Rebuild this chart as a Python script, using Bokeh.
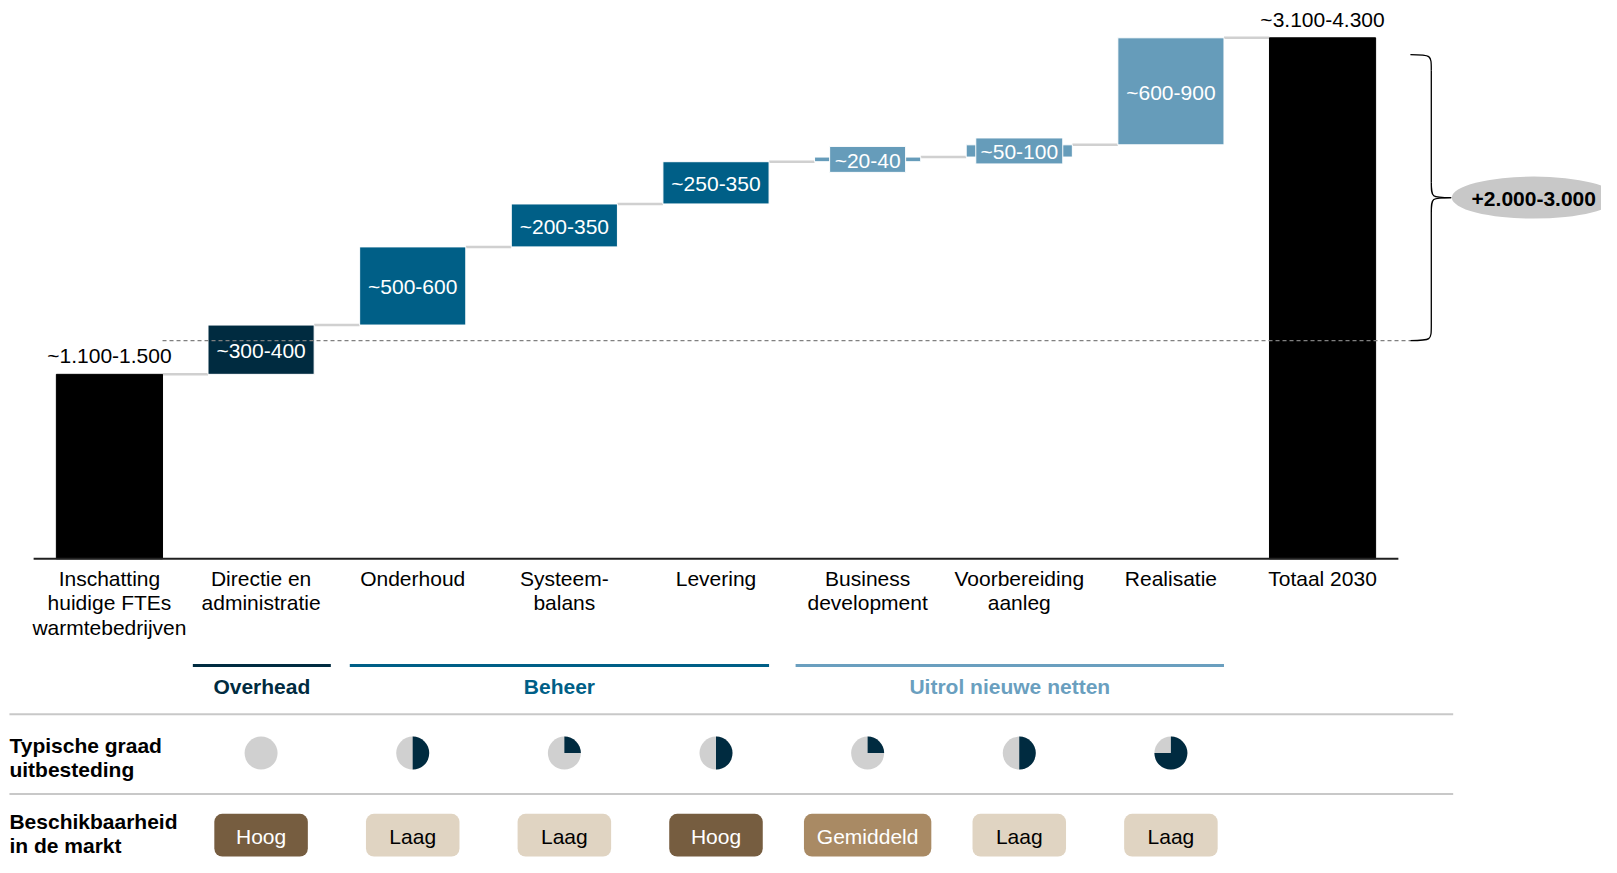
import math
from bokeh.plotting import figure
from bokeh.models import Range1d, ColumnDataSource
from bokeh.core.properties import value
from bokeh.embed import file_html
from bokeh.resources import INLINE

# ---------------- data ----------------
categories = ["Inschatting\nhuidige FTEs\nwarmtebedrijven", "Directie en\nadministratie", "Onderhoud",
              "Systeem-\nbalans", "Levering", "Business\ndevelopment", "Voorbereiding\naanleg",
              "Realisatie", "Totaal 2030"]
start_value = 1310
increments = [350, 555, 305, 300, 33, 87, 760]
total_value = 3700
value_labels = ["~1.100-1.500", "~300-400", "~500-600", "~200-350", "~250-350", "~20-40",
                "~50-100", "~600-900", "~3.100-4.300"]
segment_groups = ["Overhead", "Beheer", "Beheer", "Beheer", "Uitrol", "Uitrol", "Uitrol"]
dashed_level = 1550
brace_top = 3580
growth_label = "+2.000-3.000"

groups = ["Overhead", "Beheer", "Uitrol nieuwe netten"]
group_first = [1, 2, 5]
group_last = [1, 4, 7]

outsourcing_fraction = [0.0, 0.5, 0.25, 0.5, 0.25, 0.5, 0.75]
availability = ["Hoog", "Laag", "Laag", "Hoog", "Gemiddeld", "Laag", "Laag"]
row_labels = ["Typische graad\nuitbesteding", "Beschikbaarheid\nin de markt"]

# ---------------- styles ----------------
FONT = "Liberation Sans"
NAVY = "#002B40"
MID = "#005F87"
LIGHT = "#669CBA"
group_colors = {"Overhead": NAVY, "Beheer": MID, "Uitrol": LIGHT}
group_line_colors = [NAVY, MID, "#6A9FBF"]
avail_fill = {"Hoog": "#765D40", "Gemiddeld": "#A98A64", "Laag": "#E0D4C2"}
avail_text = {"Hoog": "white", "Gemiddeld": "white", "Laag": "black"}
GREY = "#D0D0D0"

W, H = 1601, 857
BW = 0.70
PX = 152.4            # reference px per category
X0 = 111.5            # reference px of first category centre
BASE = 558.3          # reference px of the baseline
K = 3700 / 521.0      # value units per reference px
SX, AX = 0.995, -2.0  # figure px = AX + SX * reference px (horizontal)
x_start = ((0 - AX) / SX - X0) / PX
x_end = ((W - AX) / SX - X0) / PX
y_top = BASE * K
y_bot = -(H - BASE) * K
# lower table region: compress reference px 558..873 into figure px 558..857
TB = (H - BASE) / (873 - BASE)
TA = BASE * (1 - TB)

p = figure(width=W, height=H, output_backend="svg", toolbar_location=None,
           x_range=Range1d(x_start, x_end), y_range=Range1d(y_bot, y_top),
           min_border=0, outline_line_color=None)
p.extra_y_ranges = {"px": Range1d(start=(H - TA) / TB, end=-TA / TB)}
p.axis.visible = False
p.grid.visible = False
p.background_fill_color = "white"
p.border_fill_color = "white"


def rx_(px):
    return (px - X0) / PX


n = len(categories)
xs = list(range(n))

# ---------------- waterfall ----------------
bottoms = [0]
tops = [start_value]
cum = start_value
for v in increments:
    bottoms.append(cum)
    cum += v
    tops.append(cum)
bottoms.append(0)
tops.append(total_value)
colors = ["black"] + [group_colors[g] for g in segment_groups] + ["black"]

# connectors
cx0, cx1, cy = [], [], []
for i in range(n - 1):
    cx0.append(xs[i] + BW / 2)
    cx1.append(xs[i + 1] - BW / 2)
    cy.append(tops[i])
p.segment(x0=cx0, y0=cy, x1=cx1, y1=cy, line_color=GREY, line_width=2.5)

p.vbar(x=xs, width=BW, bottom=bottoms, top=tops, fill_color=colors,
       line_color=["black"] + ["white"] * (n - 2) + ["black"], line_width=1)

# labels: outside for start/total, inside for segments
p.text(x=[xs[0], xs[-1]], y=[tops[0], tops[-1]], text=[value_labels[0], value_labels[-1]],
       text_font=value(FONT), text_font_size="21px", text_align="center",
       text_baseline="bottom", y_offset=-7, text_color="black")

mid_x, mid_y, mid_t, box_x, box_y, box_w, box_c = [], [], [], [], [], [], []
for i in range(1, n - 1):
    m = (bottoms[i] + tops[i]) / 2
    mid_x.append(xs[i]); mid_y.append(m); mid_t.append(value_labels[i])
    if tops[i] - bottoms[i] < 150:
        box_x.append(xs[i]); box_y.append(m)
        box_w.append(len(value_labels[i]) * 11 + 10)
        box_c.append(colors[i])
p.rect(x=box_x, y=box_y, width=box_w, height=26, width_units="screen", height_units="screen",
       fill_color=box_c, line_color="white", line_width=1)
p.text(x=mid_x, y=mid_y, text=mid_t, text_font=value(FONT), text_font_size="21px",
       text_align="center", text_baseline="middle", text_color="white", y_offset=1)

# baseline
p.segment(x0=[-0.5], y0=[0], x1=[n - 0.5], y1=[0], line_color="#202020", line_width=2)

# dashed reference + brace
brace_x0 = rx_(1419)
brace_xv = rx_(1440)
brace_xt = rx_(1460)
p.segment(x0=[xs[0] + BW / 2], y0=[dashed_level], x1=[brace_x0], y1=[dashed_level],
          line_color="#808080", line_width=1.2, line_dash="4 3")
mid = (dashed_level + brace_top) / 2
d = 110
bz = dict(x0=[brace_x0, brace_xv, brace_xv, brace_x0],
          y0=[brace_top, mid + d, mid - d, dashed_level],
          x1=[brace_xv, brace_xt, brace_xt, brace_xv],
          y1=[brace_top - d, mid, mid, dashed_level + d],
          cx0=[brace_xv, brace_xv, brace_xv, brace_xv],
          cy0=[brace_top, mid, mid, dashed_level],
          cx1=[brace_xv, brace_xv, brace_xv, brace_xv],
          cy1=[brace_top, mid, mid, dashed_level])
p.bezier(source=ColumnDataSource(bz), x0="x0", y0="y0", x1="x1", y1="y1",
         cx0="cx0", cy0="cy0", cx1="cx1", cy1="cy1", line_color="black", line_width=1.3)
p.segment(x0=[brace_xv, brace_xv], y0=[brace_top - d, mid - d], x1=[brace_xv, brace_xv],
          y1=[mid + d, dashed_level + d], line_color="black", line_width=1.3)

ell_x = rx_(1543)
p.ellipse(x=[ell_x], y=[mid], width=[164], height=[42], width_units="screen",
          height_units="screen", fill_color="#C8C8C8", line_color=None)
p.text(x=[ell_x], y=[mid], text=[growth_label], text_font=value(FONT), text_font_size="21px",
       text_font_style="bold", text_align="center", text_baseline="middle", text_color="black",
       y_offset=1)

# ---------------- category labels ----------------
lx, ly, lt = [], [], []
for i, c in enumerate(categories):
    for j, line in enumerate(c.split("\n")):
        lx.append(xs[i]); ly.append(579 + 25.8 * j); lt.append(line)
p.text(x=lx, y=ly, text=lt, y_range_name="px", text_font=value(FONT), text_font_size="21px",
       text_align="center", text_baseline="middle", text_color="black")

# ---------------- groups ----------------
left_off = [0.45, 0.415, 0.475]
right_off = [0.46, 0.35, 0.35]
gx0 = [group_first[k] - left_off[k] for k in range(3)]
gx1 = [group_last[k] + right_off[k] for k in range(3)]
p.segment(x0=gx0, y0=[670.7] * 3, x1=gx1, y1=[670.7] * 3, y_range_name="px",
          line_color=group_line_colors, line_width=3)
p.text(x=[(a + b) / 2 for a, b in zip(gx0, gx1)], y=[693] * 3, text=groups, y_range_name="px",
       text_font=value(FONT), text_font_size="21px", text_font_style="bold",
       text_align="center", text_baseline="middle", text_color=group_line_colors)

# separators
sep_x0 = rx_(11)
sep_x1 = rx_(1462)
p.segment(x0=[sep_x0, sep_x0], y0=[722, 806], x1=[sep_x1, sep_x1], y1=[722, 806],
          y_range_name="px", line_color="#C8C8C8", line_width=2)

# row labels
rlx, rly, rlt = [], [], []
row_y = [755, 835]
for k, r in enumerate(row_labels):
    for j, line in enumerate(r.split("\n")):
        rlx.append(sep_x0); rly.append(row_y[k] + 25.5 * j); rlt.append(line)
p.text(x=rlx, y=rly, text=rlt, y_range_name="px", text_font=value(FONT), text_font_size="21px",
       text_font_style="bold", text_align="left", text_baseline="middle", text_color="black")

# pies
seg_x = xs[1:n - 1]
p.circle(x=seg_x, y=[763] * len(seg_x), radius=16.5, radius_units="screen", y_range_name="px",
         fill_color=GREY, line_color=None)
wx, wend = [], []
for i, f in zip(seg_x, outsourcing_fraction):
    if f > 0:
        wx.append(i)
        wend.append(math.pi / 2 - f * 2 * math.pi)
p.wedge(x=wx, y=[763] * len(wx), radius=16.5, radius_units="screen", start_angle=math.pi / 2,
        end_angle=wend, direction="clock", y_range_name="px", fill_color=NAVY, line_color=None)

# availability badges
bl, br, bf, bt, btc = [], [], [], [], []
for i, a in zip(seg_x, availability):
    w = (128 if a == "Gemiddeld" else 94) / PX
    bl.append(i - w / 2); br.append(i + w / 2)
    bf.append(avail_fill[a]); bt.append(a); btc.append(avail_text[a])
p.quad(left=bl, right=br, top=[827] * len(bl), bottom=[872] * len(bl), y_range_name="px",
       fill_color=bf, line_color=None, border_radius=8)
p.text(x=seg_x, y=[851] * len(seg_x), text=bt, y_range_name="px", text_font=value(FONT),
       text_font_size="21px", text_align="center", text_baseline="middle", text_color=btc)

open("out.html", "w").write(file_html(p, INLINE))
